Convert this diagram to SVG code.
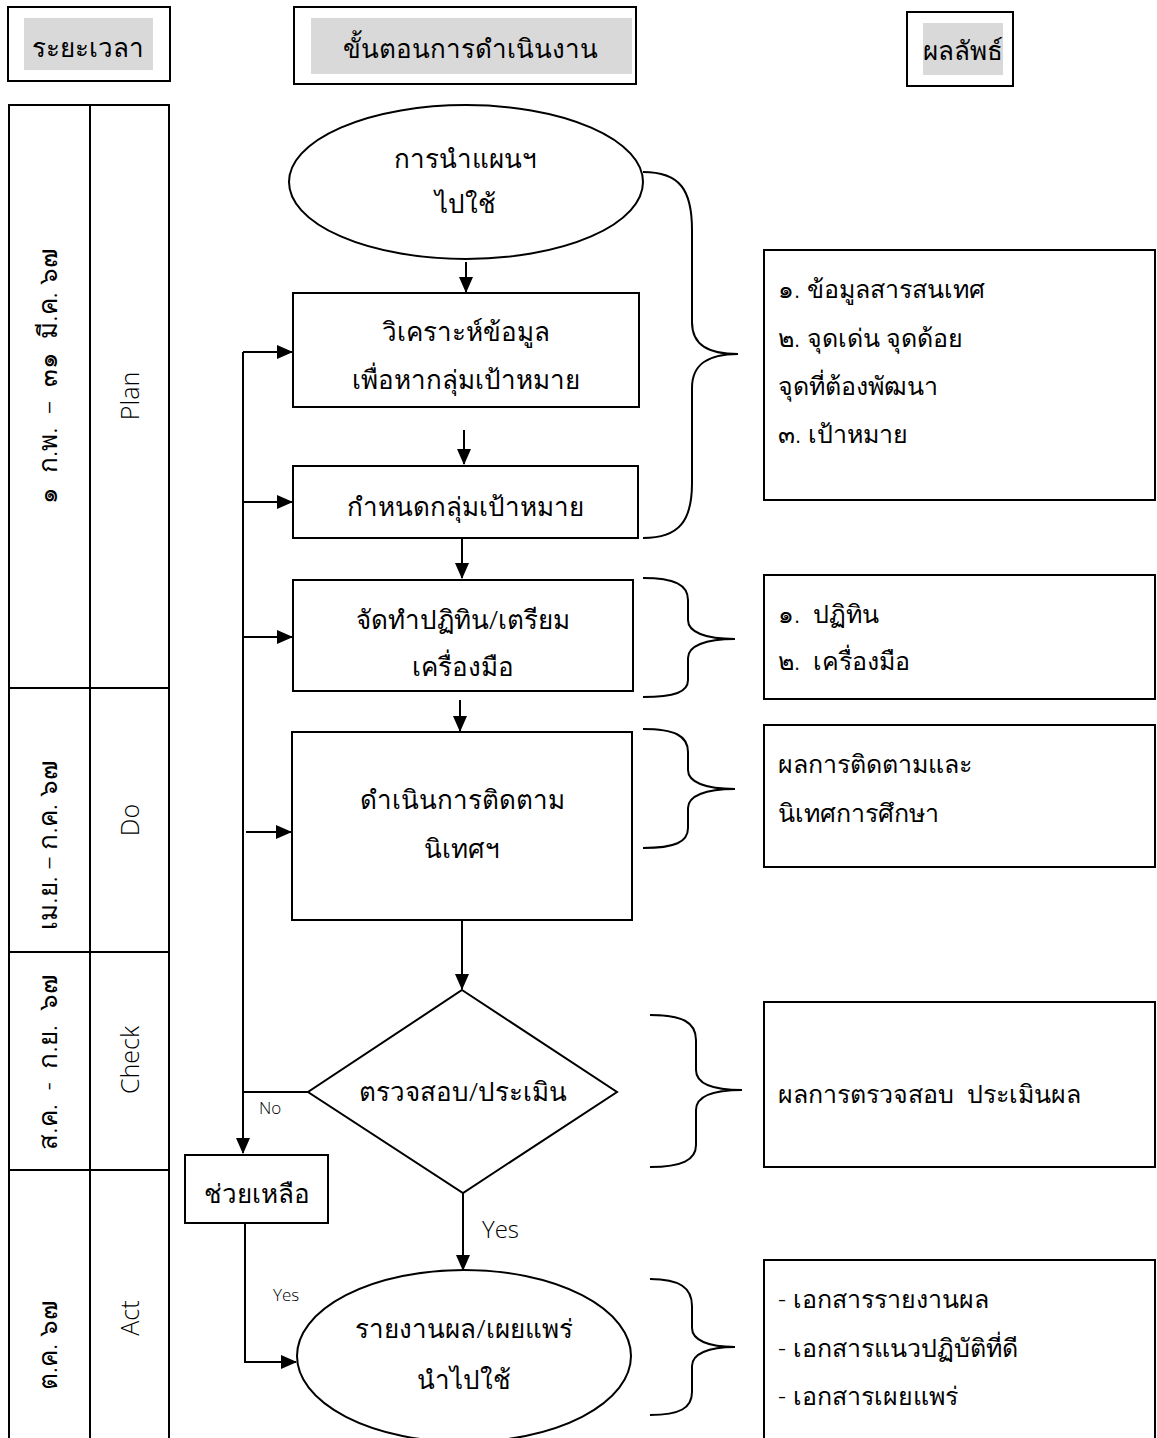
<svg xmlns="http://www.w3.org/2000/svg" width="1157" height="1438" viewBox="0 0 1157 1438">
<style>
.bx{fill:#fff;stroke:#000;stroke-width:2}
.nf{fill:none;stroke:#000;stroke-width:2}
.hd{fill:#d9d9d9;stroke:none}
.t{font-family:"Noto Sans","Open Sans",sans-serif;font-size:26px;font-weight:300;fill:#000}
.r{font-size:25px}
.tm{text-anchor:middle}
.lt{font-family:"Open Sans","Noto Sans",sans-serif;font-weight:300;fill:#000}
.ln{fill:none;stroke:#000;stroke-width:2}
</style>
<defs>
<marker id="ah" markerUnits="userSpaceOnUse" markerWidth="16" markerHeight="14" refX="15" refY="7" orient="auto">
<path d="M0,0 L16,7 L0,14 Z" fill="#000"/>
</marker>
</defs>
<rect width="1157" height="1438" fill="#fff"/>

<g id="header-time">
<rect class="bx" x="8" y="7" width="162" height="74"/>
<rect class="hd" x="24" y="18" width="129" height="52"/>
<text class="t tm" x="88" y="57">ระยะเวลา</text>
</g>
<g id="header-steps">
<rect class="bx" x="294" y="7" width="342" height="77"/>
<rect class="hd" x="311" y="18" width="321" height="56"/>
<text class="t tm" x="470" y="58">ขั้นตอนการดำเนินงาน</text>
</g>
<g id="header-result">
<rect class="bx" x="907" y="12" width="106" height="74"/>
<rect class="hd" x="923" y="23" width="80" height="52"/>
<text class="t tm" x="963" y="60">ผลลัพธ์</text>
</g>

<g id="time-table">
<rect class="nf" x="9" y="105" width="160" height="1345"/>
<line class="ln" x1="90" y1="105" x2="90" y2="1450"/>
<line class="ln" x1="9" y1="688" x2="169" y2="688"/>
<line class="ln" x1="9" y1="952" x2="169" y2="952"/>
<line class="ln" x1="9" y1="1170" x2="169" y2="1170"/>
<text class="t tm" font-size="24" x="57" y="376" transform="rotate(-90 57 376)" xml:space="preserve">๑  ก.พ.  –  ๓๑  มี.ค. ๖๗</text>
<text class="lt tm" font-size="25" x="139" y="396" transform="rotate(-90 139 396)">Plan</text>
<text class="t tm" font-size="24" x="57" y="845" transform="rotate(-90 57 845)">เม.ย. – ก.ค. ๖๗</text>
<text class="lt tm" font-size="25" x="139" y="820" transform="rotate(-90 139 820)">Do</text>
<text class="t tm" font-size="24" x="57" y="1062" transform="rotate(-90 57 1062)" xml:space="preserve">ส.ค.  -  ก.ย.  ๖๗</text>
<text class="lt tm" font-size="25" x="139" y="1060" transform="rotate(-90 139 1060)">Check</text>
<text class="t tm" font-size="24" x="57" y="1345" transform="rotate(-90 57 1345)">ต.ค. ๖๗</text>
<text class="lt tm" font-size="25" x="139" y="1318" transform="rotate(-90 139 1318)">Act</text>
</g>

<g id="n-start">
<ellipse class="bx" cx="466" cy="182" rx="177" ry="77"/>
<text class="t tm" x="465" y="168">การนำแผนฯ</text>
<text class="t tm" x="465" y="213">ไปใช้</text>
</g>
<g id="n-analyze">
<rect class="bx" x="293" y="293" width="346" height="114"/>
<text class="t tm" x="466" y="341">วิเคราะห์ข้อมูล</text>
<text class="t tm" x="466" y="389">เพื่อหากลุ่มเป้าหมาย</text>
</g>
<g id="n-target">
<rect class="bx" x="293" y="466" width="345" height="72"/>
<text class="t tm" x="465" y="516">กำหนดกลุ่มเป้าหมาย</text>
</g>
<g id="n-calendar">
<rect class="bx" x="293" y="580" width="340" height="111"/>
<text class="t tm" x="463" y="629">จัดทำปฏิทิน/เตรียม</text>
<text class="t tm" x="463" y="676">เครื่องมือ</text>
</g>
<g id="n-supervise">
<rect class="bx" x="292" y="732" width="340" height="188"/>
<text class="t tm" x="462" y="809">ดำเนินการติดตาม</text>
<text class="t tm" x="462" y="858">นิเทศฯ</text>
</g>
<g id="n-check">
<polygon class="bx" points="462,990 617,1092 463,1193 308,1092"/>
<text class="t tm" x="463" y="1101">ตรวจสอบ/ประเมิน</text>
</g>
<g id="n-help">
<rect class="bx" x="185" y="1155" width="143" height="68"/>
<text class="t tm" x="257" y="1203">ช่วยเหลือ</text>
</g>
<g id="n-report">
<ellipse class="bx" cx="464" cy="1356" rx="167" ry="86"/>
<text class="t tm" x="464" y="1338">รายงานผล/เผยแพร่</text>
<text class="t tm" x="464" y="1389">นำไปใช้</text>
</g>

<g id="r-plan">
<rect class="bx" x="764" y="250" width="391" height="250"/>
<text class="t r" x="778" y="298">๑. ข้อมูลสารสนเทศ</text>
<text class="t r" x="778" y="347">๒. จุดเด่น จุดด้อย</text>
<text class="t r" x="778" y="395">จุดที่ต้องพัฒนา</text>
<text class="t r" x="778" y="443">๓. เป้าหมาย</text>
</g>
<g id="r-calendar">
<rect class="bx" x="764" y="575" width="391" height="124"/>
<text class="t r" x="778" y="623" xml:space="preserve">๑.  ปฏิทิน</text>
<text class="t r" x="778" y="670" xml:space="preserve">๒.  เครื่องมือ</text>
</g>
<g id="r-supervise">
<rect class="bx" x="764" y="725" width="391" height="142"/>
<text class="t r" x="778" y="773">ผลการติดตามและ</text>
<text class="t r" x="778" y="822">นิเทศการศึกษา</text>
</g>
<g id="r-check">
<rect class="bx" x="764" y="1002" width="391" height="165"/>
<text class="t r" x="778" y="1103" xml:space="preserve">ผลการตรวจสอบ  ประเมินผล</text>
</g>
<g id="r-report">
<rect class="bx" x="764" y="1260" width="391" height="200"/>
<text class="t r" x="778" y="1308">- เอกสารรายงานผล</text>
<text class="t r" x="778" y="1357">- เอกสารแนวปฏิบัติที่ดี</text>
<text class="t r" x="778" y="1405">- เอกสารเผยแพร่</text>
</g>

<g id="braces">
<path class="nf" d="M643,172 C680,172 692,190 692,230 L692,322 C692,345 708,354 738,354 C708,354 692,364 692,388 L692,483 C692,520 680,538 643,538"/>
<path class="nf" d="M643,578 C675,578 688,585 688,600 L688,620 C688,632 705,639 735,639 C705,639 688,646 688,658 L688,680 C688,692 675,697 643,697"/>
<path class="nf" d="M643,729 C675,729 688,736 688,752 L688,770 C688,782 705,789 735,789 C705,789 688,796 688,808 L688,828 C688,842 675,848 643,848"/>
<path class="nf" d="M650,1015 C682,1015 696,1022 696,1040 L696,1070 C696,1083 712,1090 742,1090 C712,1090 696,1097 696,1110 L696,1145 C696,1160 682,1167 650,1167"/>
<path class="nf" d="M650,1279 C680,1279 692,1288 692,1306 L692,1328 C692,1340 708,1347 735,1347 C708,1347 692,1354 692,1366 L692,1392 C692,1408 680,1415 650,1415"/>
</g>

<g id="connectors">
<line class="ln" x1="466" y1="262" x2="466" y2="292" marker-end="url(#ah)"/>
<line class="ln" x1="464" y1="430" x2="464" y2="464" marker-end="url(#ah)"/>
<line class="ln" x1="462" y1="538" x2="462" y2="578" marker-end="url(#ah)"/>
<line class="ln" x1="460" y1="700" x2="460" y2="731" marker-end="url(#ah)"/>
<line class="ln" x1="462" y1="920" x2="462" y2="989" marker-end="url(#ah)"/>
<line class="ln" x1="463" y1="1193" x2="463" y2="1270" marker-end="url(#ah)"/>
<polyline class="ln" points="308,1092 243,1092"/>
<line class="ln" x1="243" y1="352" x2="243" y2="1153" marker-end="url(#ah)"/>
<line class="ln" x1="243" y1="352" x2="292" y2="352" marker-end="url(#ah)"/>
<line class="ln" x1="243" y1="502" x2="292" y2="502" marker-end="url(#ah)"/>
<line class="ln" x1="243" y1="637" x2="292" y2="637" marker-end="url(#ah)"/>
<line class="ln" x1="246" y1="832" x2="291" y2="832" marker-end="url(#ah)"/>
<polyline class="ln" points="245,1223 245,1362 296,1362" marker-end="url(#ah)"/>
<text class="lt" font-size="17" x="259" y="1114">No</text>
<text class="lt" font-size="17" x="273" y="1301">Yes</text>
<text class="lt" font-size="24" x="482" y="1238">Yes</text>
</g>
</svg>
